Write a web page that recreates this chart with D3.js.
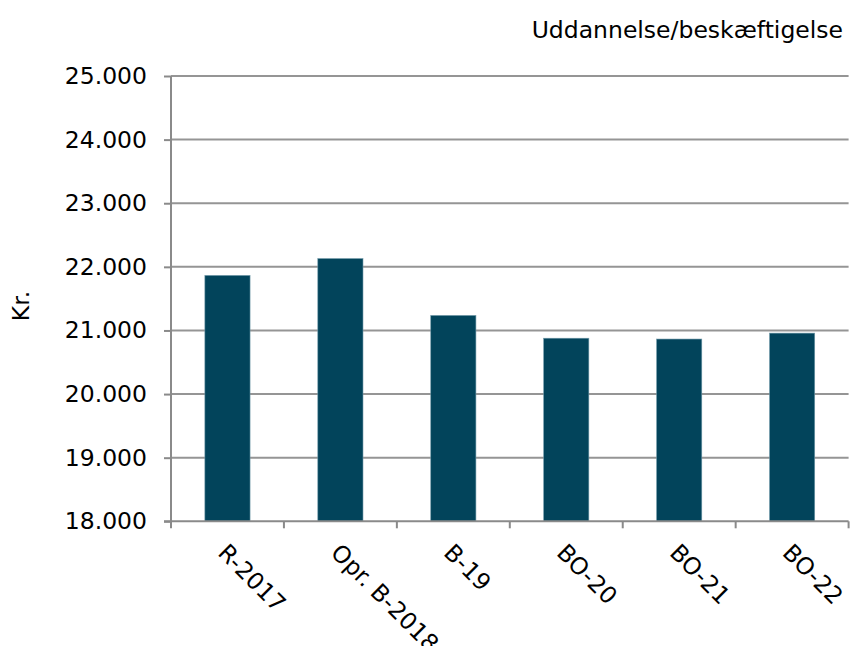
<!DOCTYPE html>
<html><head><meta charset="utf-8">
<script src="https://cdn.jsdelivr.net/npm/d3@7"></script>
<style>body{margin:0;background:#fff}text{font-family:"DejaVu Sans",Verdana,sans-serif}</style>
</head><body>
<svg id="c" width="851" height="646"></svg>
<script>
const categories = ["R-2017","Opr. B-2018","B-19","BO-20","BO-21","BO-22"];
const values = [21865, 22130, 21236, 20878, 20865, 20958];
const yTicks = [18000,19000,20000,21000,22000,23000,24000,25000];
const title = "Uddannelse/beskæftigelse";
const yLabel = "Kr.";

(function(){
const svg = d3.select("#c");
const L = 171, R = 848.6, T = 76, B = 521.3;
const x = d3.scaleBand().domain(categories).range([L, R]).padding(0);
const y = d3.scaleLinear().domain([18000, 25000]).range([B, T]);
const fmt = v => d3.format(",")(v).replace(/,/g, ".");
const fs = 23.5;

svg.append("g").selectAll("line").data(yTicks.slice(1)).join("line")
  .attr("x1", L).attr("x2", R).attr("y1", d => y(d)).attr("y2", d => y(d))
  .attr("stroke", "#959595").attr("stroke-width", 2);

const bw = x.bandwidth() * 0.4;
svg.append("g").selectAll("rect").data(values).join("rect")
  .attr("x", (d, i) => x(categories[i]) + x.bandwidth() / 2 - bw / 2)
  .attr("width", bw)
  .attr("y", d => y(d)).attr("height", d => B - y(d))
  .attr("fill", "#02445b").attr("stroke", "#6f98a8").attr("stroke-width", 0.6);

const ya = svg.append("g").attr("transform", `translate(${L},0)`)
  .call(d3.axisLeft(y).tickValues(yTicks).tickFormat(fmt).tickSize(7).tickPadding(17));
ya.select(".domain").attr("stroke", "#8a8a8a").attr("stroke-width", 2).attr("d", `M0,${T}V${B}`);
ya.selectAll(".tick line").attr("stroke", "#8a8a8a").attr("stroke-width", 2);
ya.selectAll(".tick text").attr("font-size", fs).attr("fill", "#000")
  .attr("font-family", "DejaVu Sans, Verdana, sans-serif");

const xa = svg.append("g").attr("transform", `translate(0,${B})`);
xa.append("line").attr("x1", L - 7).attr("x2", R).attr("y1", 0).attr("y2", 0)
  .attr("stroke", "#8a8a8a").attr("stroke-width", 2);
const bounds = categories.map(c => x(c)).concat([R]);
xa.selectAll("line.t").data(bounds).join("line").attr("class", "t")
  .attr("x1", d => d).attr("x2", d => d).attr("y1", 0).attr("y2", 7)
  .attr("stroke", "#8a8a8a").attr("stroke-width", 2);
xa.selectAll("text").data(categories).join("text")
  .attr("transform", d => `translate(${x(d) + x.bandwidth() / 2 - 5},${27}) rotate(45)`)
  .attr("font-size", fs).attr("fill", "#000").attr("dy", "0.35em")
  .text(d => d);

svg.append("text").attr("x", 843).attr("y", 38).attr("text-anchor", "end")
  .attr("font-size", fs).attr("fill", "#000").text(title);

svg.append("text").attr("transform", `translate(29,306) rotate(-90)`)
  .attr("text-anchor", "middle").attr("font-size", fs).attr("fill", "#000").text(yLabel);
})();
</script>
</body></html>
